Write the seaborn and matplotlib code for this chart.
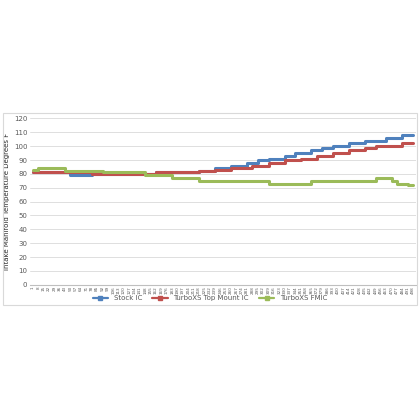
import matplotlib
matplotlib.use("Agg")
import matplotlib.pyplot as plt
import seaborn as sns
import pandas as pd
from matplotlib.patches import Rectangle

# x tick labels (sample numbers)
samples = list(range(1, 1 + 7 * 72, 7))

stock_ic = [81]*7 + [79]*4 + [80]*12 + [81]*8 + [82]*3 + [84]*3 + [86]*3 + [88]*2 + [90]*2 + \
    [91]*3 + [93]*2 + [95]*3 + [97]*2 + [99]*2 + [100]*3 + [102]*3 + [104]*4 + [106]*3 + [108]*3
top_mount = [81]*11 + [80]*12 + [81]*8 + [82]*3 + [83]*3 + [84]*4 + [86]*3 + [88]*3 + [90]*3 + \
    [91]*3 + [93]*3 + [95]*3 + [97]*3 + [99]*2 + [100]*5 + [102]*3
fmic = [83] + [84]*5 + [82]*7 + [81]*8 + [79]*5 + [77]*5 + [75]*13 + [73]*8 + [75]*12 + \
    [77]*3 + [75] + [73]*2 + [72]*2

df = pd.DataFrame({"idx": range(len(samples)),
                   "Stock IC": stock_ic,
                   "TurboXS Top Mount IC": top_mount,
                   "TurboXS FMIC": fmic})
long_df = df.melt(id_vars="idx", var_name="series", value_name="temp")

sns.set_style("white")
fig = plt.figure(figsize=(4.2, 4.2), dpi=100)
fig.patches.append(Rectangle((0.008, 0.275), 0.984, 0.455, transform=fig.transFigure,
                             fill=False, edgecolor="#d9d9d9", linewidth=0.8))
ax = fig.add_axes([0.072, 0.322, 0.918, 0.396])

palette = {"Stock IC": "#4F81BD", "TurboXS Top Mount IC": "#C0504D", "TurboXS FMIC": "#9BBB59"}
sns.lineplot(data=long_df, x="idx", y="temp", hue="series", palette=palette,
             drawstyle="steps-post", linewidth=2.2, ax=ax, legend=False)

ax.set_ylim(0, 120)
ax.set_yticks(range(0, 121, 10))
ax.set_xlim(-0.5, len(samples) - 0.5)
ax.set_xticks(range(len(samples)))
ax.set_xticklabels(samples, rotation=90, fontsize=3, color="#595959")
ax.tick_params(axis="y", labelsize=5, colors="#595959", length=0, pad=2)
ax.tick_params(axis="x", length=0, pad=1)
ax.grid(axis="y", color="#d9d9d9", linewidth=0.6)
for s in ["top", "right", "left"]:
    ax.spines[s].set_visible(False)
ax.spines["bottom"].set_color("#bfbfbf")
ax.set_xlabel("")
ax.set_ylabel("Intake Manifold Temperature Degrees F", fontsize=5, color="#262626", labelpad=3)

handles = [plt.Line2D([], [], color=c, linewidth=1.6, marker="s", markersize=2.5) for c in palette.values()]
fig.legend(handles, list(palette.keys()), loc="center", bbox_to_anchor=(0.5, 0.29), ncol=3,
           frameon=False, fontsize=5, handlelength=2.2, columnspacing=1.5, labelcolor="#595959")

fig.savefig("out.png", dpi=100, facecolor="white")
